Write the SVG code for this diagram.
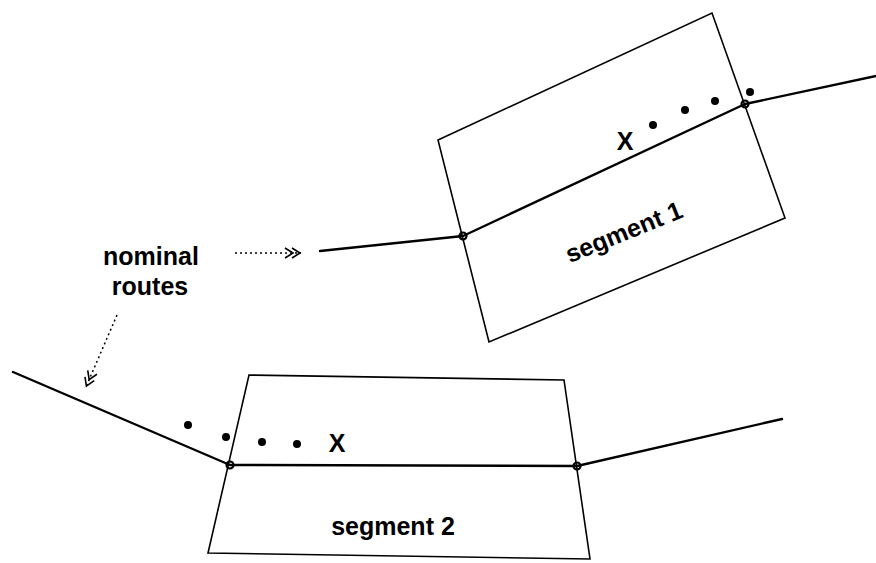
<svg xmlns="http://www.w3.org/2000/svg" width="876" height="563" viewBox="0 0 876 563">
<style>
.box{fill:none;stroke:#000;stroke-width:1.6;stroke-linejoin:miter}
.route{fill:none;stroke:#000;stroke-width:2.4;stroke-linecap:round;stroke-linejoin:round}
.node{fill:none;stroke:#000;stroke-width:2.2}
.dot{fill:#000}
.lbl{font-family:"Liberation Sans",Arial,sans-serif;font-weight:bold;font-size:25px;fill:#000}
.ptr{fill:none;stroke:#000;stroke-width:1.5;stroke-dasharray:2 3}
</style>
<defs>
<marker id="dbl" viewBox="0 0 20 12" refX="18" refY="6" markerWidth="20" markerHeight="12" markerUnits="userSpaceOnUse" orient="auto">
<path d="M2,1 L10,6 L2,11 M9,1 L17,6 L9,11" fill="none" stroke="#000" stroke-width="1.6"/>
</marker>
</defs>
<rect width="876" height="563" fill="#fff"/>
<g id="segment1">
<polygon class="box" points="438,140 712,13 785,218 489,342"/>
<text class="lbl" x="627" y="240" text-anchor="middle" transform="rotate(-22 627 240)">segment 1</text>
</g>
<g id="segment2">
<polygon class="box" points="249,375 564,380 590,559 208,553"/>
<text class="lbl" x="393" y="535" text-anchor="middle">segment 2</text>
</g>
<g id="route1">
<polyline class="route" points="320,251 463,236 745,104 876,76"/>
<circle class="node" cx="463" cy="236" r="3.5"/>
<circle class="node" cx="745" cy="104" r="3.5"/>
<circle class="dot" cx="653" cy="125" r="4"/>
<circle class="dot" cx="685" cy="110" r="4"/>
<circle class="dot" cx="715" cy="101" r="4"/>
<circle class="dot" cx="750" cy="92" r="4"/>
<text class="lbl" x="625" y="150" text-anchor="middle">X</text>
</g>
<g id="route2">
<polyline class="route" points="13,372 230,465 577,466 782,419"/>
<circle class="node" cx="230" cy="465" r="3.5"/>
<circle class="node" cx="577" cy="466" r="3.5"/>
<circle class="dot" cx="188" cy="425" r="4"/>
<circle class="dot" cx="226" cy="437" r="4"/>
<circle class="dot" cx="262" cy="442" r="4"/>
<circle class="dot" cx="297" cy="444" r="4"/>
<text class="lbl" x="337" y="452" text-anchor="middle">X</text>
</g>
<g id="nominal-routes">
<text class="lbl" x="151" y="265" text-anchor="middle">nominal</text>
<text class="lbl" x="150" y="295" text-anchor="middle">routes</text>
</g>
<g id="connectors">
<line class="ptr" x1="235" y1="253" x2="301" y2="253" marker-end="url(#dbl)"/>
<line class="ptr" x1="117" y1="315" x2="86" y2="387" marker-end="url(#dbl)"/>
</g>
</svg>
